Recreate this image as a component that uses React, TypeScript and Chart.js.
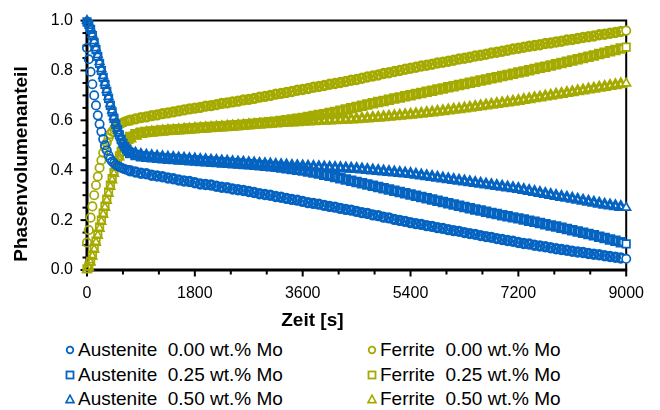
import React, { useEffect, useRef } from 'react';
import { Chart, registerables } from 'chart.js';

Chart.register(...registerables);

const BLUE = '#0563C1';
const OLIVE = '#A4AA00';
const FONT = '"Liberation Sans", Arial, sans-serif';

const X_TICKS = [0, 1800, 3600, 5400, 7200, 9000];
const Y_TICKS = [0, 0.2, 0.4, 0.6, 0.8, 1.0];
const X_TITLE = 'Zeit [s]';
const Y_TITLE = 'Phasenvolumenanteil';

// time [s]
const TIMES = [
  0, 30, 60, 90, 120, 150, 180, 210, 240, 270, 300, 330, 360, 390, 420, 450, 480, 510, 540, 570, 600, 630, 660, 690,
  720, 810, 900, 990, 1080, 1170, 1260, 1350, 1440, 1530,
  1620, 1710, 1800, 1890, 1980, 2070, 2160, 2250, 2340, 2430,
  2520, 2610, 2700, 2790, 2880, 2970, 3060, 3150, 3240, 3330,
  3420, 3510, 3600, 3690, 3780, 3870, 3960, 4050, 4140, 4230,
  4320, 4410, 4500, 4590, 4680, 4770, 4860, 4950, 5040, 5130,
  5220, 5310, 5400, 5490, 5580, 5670, 5760, 5850, 5940, 6030,
  6120, 6210, 6300, 6390, 6480, 6570, 6660, 6750, 6840, 6930,
  7020, 7110, 7200, 7290, 7380, 7470, 7560, 7650, 7740, 7830,
  7920, 8010, 8100, 8190, 8280, 8370, 8460, 8550, 8640, 8730,
  8820, 8910, 9000,
];

const AUST_000 = [
  0.89, 0.845, 0.795, 0.745, 0.70, 0.66, 0.62, 0.585, 0.555, 0.525, 0.50, 0.48, 0.46, 0.445, 0.435, 0.428, 0.422, 0.417, 0.413, 0.41, 0.407, 0.404, 0.402, 0.40,
  0.398, 0.393, 0.388, 0.386, 0.38, 0.377, 0.374, 0.369, 0.366, 0.361,
  0.357, 0.355, 0.35, 0.345, 0.343, 0.341, 0.336, 0.332, 0.33, 0.325,
  0.322, 0.319, 0.315, 0.311, 0.306, 0.303, 0.3, 0.295, 0.292, 0.287,
  0.283, 0.28, 0.275, 0.27, 0.267, 0.264, 0.259, 0.255, 0.252, 0.247,
  0.243, 0.24, 0.235, 0.23, 0.227, 0.221, 0.218, 0.212, 0.209, 0.203,
  0.199, 0.195, 0.19, 0.186, 0.183, 0.178, 0.175, 0.17, 0.167, 0.162,
  0.158, 0.155, 0.15, 0.146, 0.143, 0.138, 0.134, 0.131, 0.126, 0.122,
  0.118, 0.115, 0.11, 0.106, 0.104, 0.099, 0.096, 0.093, 0.089, 0.085,
  0.082, 0.079, 0.075, 0.072, 0.07, 0.066, 0.063, 0.061, 0.057, 0.054,
  0.051, 0.048, 0.045,
];

const AUST_025 = [
  0.995, 0.985, 0.965, 0.94, 0.912, 0.884, 0.856, 0.828, 0.80, 0.772, 0.744, 0.716, 0.688, 0.66, 0.634, 0.608, 0.584, 0.562, 0.542, 0.524, 0.508, 0.495, 0.484, 0.476,
  0.469, 0.461, 0.456, 0.454, 0.452, 0.45, 0.448, 0.446, 0.445, 0.443,
  0.442, 0.44, 0.439, 0.437, 0.436, 0.434, 0.433, 0.431, 0.43, 0.428,
  0.427, 0.425, 0.424, 0.422, 0.42, 0.418, 0.416, 0.414, 0.411, 0.408,
  0.405, 0.402, 0.399, 0.395, 0.391, 0.387, 0.382, 0.378, 0.373, 0.368,
  0.363, 0.358, 0.353, 0.348, 0.343, 0.338, 0.333, 0.328, 0.323, 0.318,
  0.313, 0.308, 0.303, 0.298, 0.293, 0.288, 0.283, 0.278, 0.273, 0.268,
  0.263, 0.258, 0.253, 0.248, 0.243, 0.239, 0.234, 0.229, 0.225, 0.22,
  0.216, 0.211, 0.207, 0.202, 0.197, 0.193, 0.188, 0.183, 0.178, 0.174,
  0.169, 0.164, 0.159, 0.154, 0.149, 0.144, 0.139, 0.133, 0.128, 0.122,
  0.117, 0.111, 0.105,
];

const AUST_050 = [
  1.0, 0.99, 0.97, 0.945, 0.918, 0.89, 0.862, 0.834, 0.806, 0.778, 0.75, 0.722, 0.694, 0.666, 0.64, 0.614, 0.59, 0.568, 0.548, 0.53, 0.514, 0.50, 0.489, 0.48,
  0.473, 0.466, 0.461, 0.458, 0.456, 0.454, 0.452, 0.45, 0.449, 0.447,
  0.446, 0.444, 0.443, 0.441, 0.44, 0.438, 0.437, 0.435, 0.434, 0.432,
  0.431, 0.43, 0.428, 0.427, 0.425, 0.424, 0.423, 0.421, 0.42, 0.419,
  0.417, 0.416, 0.415, 0.414, 0.413, 0.412, 0.411, 0.41, 0.409, 0.408,
  0.407, 0.406, 0.405, 0.403, 0.401, 0.399, 0.397, 0.395, 0.393, 0.391,
  0.389, 0.387, 0.385, 0.382, 0.379, 0.376, 0.373, 0.37, 0.367, 0.364,
  0.361, 0.358, 0.355, 0.352, 0.349, 0.346, 0.343, 0.34, 0.337, 0.334,
  0.331, 0.328, 0.325, 0.321, 0.317, 0.313, 0.309, 0.305, 0.301, 0.297,
  0.293, 0.29, 0.286, 0.282, 0.278, 0.274, 0.27, 0.266, 0.262, 0.259,
  0.256, 0.253, 0.25,
];

const FERR_000 = [
  0.11, 0.16, 0.21, 0.255, 0.30, 0.34, 0.375, 0.41, 0.44, 0.47, 0.49, 0.51, 0.53, 0.545, 0.555, 0.565, 0.572, 0.578, 0.583, 0.587, 0.591, 0.594, 0.597, 0.599,
  0.601, 0.606, 0.611, 0.614, 0.619, 0.622, 0.627, 0.63, 0.634, 0.638,
  0.642, 0.646, 0.649, 0.652, 0.657, 0.659, 0.663, 0.668, 0.67, 0.674,
  0.677, 0.682, 0.684, 0.688, 0.693, 0.696, 0.70, 0.705, 0.708, 0.712,
  0.716, 0.721, 0.724, 0.728, 0.733, 0.736, 0.74, 0.745, 0.748, 0.752,
  0.756, 0.761, 0.764, 0.769, 0.774, 0.778, 0.782, 0.788, 0.791, 0.796,
  0.80, 0.805, 0.809, 0.813, 0.818, 0.821, 0.825, 0.83, 0.833, 0.837,
  0.841, 0.846, 0.849, 0.853, 0.858, 0.861, 0.865, 0.87, 0.873, 0.877,
  0.881, 0.886, 0.889, 0.893, 0.897, 0.90, 0.903, 0.908, 0.91, 0.914,
  0.917, 0.922, 0.924, 0.928, 0.932, 0.935, 0.938, 0.943, 0.945, 0.949,
  0.952, 0.956, 0.96,
];

const FERR_025 = [
  0.005, 0.015, 0.035, 0.06, 0.088, 0.116, 0.144, 0.172, 0.20, 0.228, 0.256, 0.284, 0.312, 0.34, 0.366, 0.392, 0.416, 0.438, 0.458, 0.476, 0.492, 0.505, 0.516, 0.525,
  0.533, 0.544, 0.55, 0.553, 0.555, 0.557, 0.559, 0.561, 0.562, 0.564,
  0.565, 0.567, 0.568, 0.57, 0.571, 0.573, 0.574, 0.576, 0.577, 0.579,
  0.58, 0.582, 0.584, 0.586, 0.588, 0.59, 0.592, 0.594, 0.597, 0.60,
  0.603, 0.606, 0.609, 0.613, 0.617, 0.621, 0.625, 0.63, 0.634, 0.639,
  0.644, 0.649, 0.654, 0.659, 0.664, 0.669, 0.674, 0.678, 0.683, 0.688,
  0.692, 0.697, 0.701, 0.706, 0.71, 0.715, 0.719, 0.724, 0.728, 0.733,
  0.737, 0.742, 0.746, 0.751, 0.755, 0.76, 0.764, 0.769, 0.773, 0.778,
  0.782, 0.787, 0.792, 0.796, 0.801, 0.806, 0.811, 0.815, 0.82, 0.825,
  0.83, 0.835, 0.84, 0.845, 0.85, 0.855, 0.86, 0.866, 0.871, 0.877,
  0.882, 0.888, 0.894,
];

const FERR_050 = [
  0.0, 0.01, 0.03, 0.055, 0.082, 0.11, 0.138, 0.166, 0.194, 0.222, 0.25, 0.278, 0.306, 0.334, 0.36, 0.386, 0.41, 0.432, 0.452, 0.47, 0.486, 0.50, 0.511, 0.52,
  0.527, 0.538, 0.545, 0.549, 0.551, 0.553, 0.555, 0.557, 0.558, 0.56,
  0.562, 0.563, 0.565, 0.566, 0.568, 0.569, 0.571, 0.572, 0.574, 0.575,
  0.577, 0.578, 0.58, 0.581, 0.583, 0.584, 0.586, 0.587, 0.589, 0.59,
  0.591, 0.592, 0.594, 0.595, 0.596, 0.597, 0.598, 0.599, 0.60, 0.601,
  0.602, 0.603, 0.604, 0.606, 0.607, 0.609, 0.61, 0.612, 0.614, 0.616,
  0.618, 0.62, 0.622, 0.625, 0.627, 0.63, 0.632, 0.635, 0.637, 0.64,
  0.643, 0.645, 0.648, 0.651, 0.654, 0.657, 0.66, 0.663, 0.666, 0.669,
  0.672, 0.675, 0.678, 0.682, 0.685, 0.689, 0.692, 0.696, 0.699, 0.703,
  0.706, 0.71, 0.713, 0.717, 0.72, 0.724, 0.727, 0.731, 0.734, 0.738,
  0.741, 0.745, 0.748,
];

type Series = { label: string; values: number[]; color: string; shape: 'circle' | 'rect' | 'triangle' };

const SERIES: Series[] = [
  { label: 'Austenite  0.00 wt.% Mo', values: AUST_000, color: BLUE, shape: 'circle' },
  { label: 'Austenite  0.25 wt.% Mo', values: AUST_025, color: BLUE, shape: 'rect' },
  { label: 'Austenite  0.50 wt.% Mo', values: AUST_050, color: BLUE, shape: 'triangle' },
  { label: 'Ferrite  0.00 wt.% Mo', values: FERR_000, color: OLIVE, shape: 'circle' },
  { label: 'Ferrite  0.25 wt.% Mo', values: FERR_025, color: OLIVE, shape: 'rect' },
  { label: 'Ferrite  0.50 wt.% Mo', values: FERR_050, color: OLIVE, shape: 'triangle' },
];

const RADIUS: Record<string, number> = { circle: 4.2, rect: 5.3, triangle: 5 };
const EARLY_POINTS = 24;

const framePlugin = {
  id: 'frameTicks',
  beforeDatasetsDraw(chart: any) {
    const { ctx, chartArea: a, scales } = chart;
    const xs = scales.x;
    const ys = scales.y;
    ctx.save();
    ctx.strokeStyle = '#000';
    ctx.lineWidth = 2;
    ctx.beginPath();
    ctx.moveTo(a.left, a.top);
    ctx.lineTo(a.right, a.top);
    ctx.lineTo(a.right, a.bottom);
    ctx.stroke();
    ctx.lineWidth = 3;
    ctx.beginPath();
    ctx.moveTo(a.left, a.top - 1);
    ctx.lineTo(a.left, a.bottom);
    ctx.lineTo(a.right + 1, a.bottom);
    ctx.stroke();
    ctx.lineWidth = 2;
    for (let v = 0; v <= 9000; v += 600) {
      const px = xs.getPixelForValue(v);
      const len = v % 1800 === 0 ? 5 : 3;
      ctx.beginPath();
      ctx.moveTo(px, a.bottom);
      ctx.lineTo(px, a.bottom + 1.5 + len);
      ctx.stroke();
    }
    for (let i = 0; i <= 20; i++) {
      const v = i * 0.05;
      const py = ys.getPixelForValue(v);
      const len = i % 4 === 0 ? 5 : 3;
      ctx.beginPath();
      ctx.moveTo(a.left, py);
      ctx.lineTo(a.left - 1.5 - len, py);
      ctx.stroke();
    }
    ctx.restore();
  },
  afterDraw(chart: any) {
    const { ctx, chartArea: a } = chart;
    ctx.save();
    ctx.fillStyle = '#000';
    ctx.font = 'bold 19px ' + FONT;
    ctx.textAlign = 'center';
    ctx.textBaseline = 'middle';
    ctx.fillText(X_TITLE, a.left + 0.418 * (a.right - a.left), a.bottom + 51);
    ctx.translate(a.left - 65, a.top + 0.575 * (a.bottom - a.top));
    ctx.rotate(-Math.PI / 2);
    ctx.fillText(Y_TITLE, 0, 0);
    ctx.restore();
  },
};

function Marker({ shape, color }: { shape: string; color: string }) {
  return (
    <svg width={10} height={10} style={{ display: 'block' }}>
      {shape === 'circle' && <circle cx={5} cy={5} r={3.3} fill="#fff" stroke={color} strokeWidth={1.8} />}
      {shape === 'rect' && <rect x={1.5} y={1.5} width={7} height={7} fill="#fff" stroke={color} strokeWidth={1.8} />}
      {shape === 'triangle' && <polygon points="5,1.2 9,8.6 1,8.6" fill="#fff" stroke={color} strokeWidth={1.6} />}
    </svg>
  );
}

export default function App() {
  const canvasRef = useRef<HTMLCanvasElement | null>(null);

  useEffect(() => {
    if (!canvasRef.current) return;
    Chart.defaults.font.family = FONT;
    const chart = new Chart(canvasRef.current, {
      type: 'scatter',
      data: {
        datasets: SERIES.map((s) => ({
          label: s.label,
          data: TIMES.map((t, i) => ({ x: t, y: s.values[i] })),
          showLine: false,
          pointStyle: s.shape,
          pointRadius: RADIUS[s.shape],
          pointBorderWidth: (c: any) => (c.dataIndex < EARLY_POINTS || c.dataIndex === TIMES.length - 1 ? 1.7 : 3),
          borderColor: s.color,
          backgroundColor: 'rgba(255,255,255,0)',
          pointBackgroundColor: (c: any) => (c.dataIndex === TIMES.length - 1 ? '#fff' : 'rgba(255,255,255,0)'),
          pointBorderColor: s.color,
          clip: false,
        })),
      },
      options: {
        animation: false,
        responsive: true,
        maintainAspectRatio: false,
        events: [],
        layout: { padding: { left: 0, right: 25, top: 1, bottom: 8 } },
        plugins: { legend: { display: false }, tooltip: { enabled: false } },
        scales: {
          x: {
            type: 'linear',
            min: 0,
            max: 9000,
            grid: { display: false, drawTicks: false },
            border: { display: false },
            afterFit: (s: any) => {
              s.height = 60;
            },
            afterBuildTicks: (s: any) => {
              s.ticks = X_TICKS.map((v) => ({ value: v }));
            },
            ticks: {
              color: '#000',
              font: { size: 16 },
              padding: 14,
              maxRotation: 0,
              autoSkip: false,
              callback: (v: any) => String(v),
            },
          },
          y: {
            type: 'linear',
            min: 0,
            max: 1,
            grid: { display: false, drawTicks: false },
            border: { display: false },
            afterFit: (s: any) => {
              s.width = 79;
            },
            afterBuildTicks: (s: any) => {
              s.ticks = Y_TICKS.map((v) => ({ value: v }));
            },
            ticks: {
              color: '#000',
              font: { size: 16 },
              padding: 14,
              autoSkip: false,
              callback: (v: any) => Number(v).toFixed(1),
            },
            title: { display: false },
          },
        },
      },
      plugins: [framePlugin],
    } as any);
    return () => chart.destroy();
  }, []);

  const colX = [62, 364];
  const rowY = [342, 367, 391];

  return (
    <div style={{ position: 'relative', width: 644, height: 402 }}>
      <div style={{ position: 'absolute', left: 0, top: -11, width: 650, height: 341 }}>
        <canvas ref={canvasRef} />
      </div>
      {SERIES.map((s, i) => {
        const col = i < 3 ? 0 : 1;
        const row = i % 3;
        return (
          <div
            key={s.label}
            style={{
              position: 'absolute',
              left: colX[col] - 5,
              top: rowY[row] - 10,
              height: 20,
              display: 'flex',
              alignItems: 'center',
              whiteSpace: 'pre',
              font: '19px ' + FONT,
              color: '#000',
            }}
          >
            <Marker shape={s.shape} color={s.color} />
            <span style={{ marginLeft: 3 }}>{s.label}</span>
          </div>
        );
      })}
    </div>
  );
}
